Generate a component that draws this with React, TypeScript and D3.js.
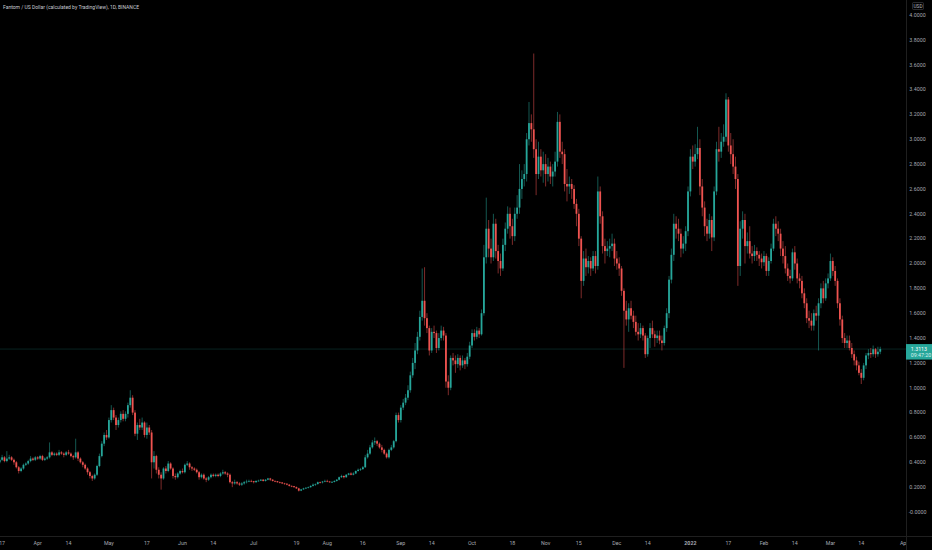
import * as d3 from 'd3';
import * as React from 'react';

const WIDTH = 932;
const HEIGHT = 550;
const PLOT_RIGHT = 906;
const PLOT_BOTTOM = 536;

const TITLE = 'Fantom / US Dollar (calculated by TradingView), 1D, BINANCE';
const CURRENCY = 'USD';
const COUNTDOWN = '09:47:20';
const FIRST_DAY = Date.UTC(2021, 2, 16);
const FIRST_OPEN = 0.4;
const UP = '#26a69a';
const DOWN = '#ef5350';

// daily candles as [high, low, close]; each open is the previous close
const mar21 = [
  [0.44, 0.39, 0.42], [0.46, 0.41, 0.44], [0.45, 0.4, 0.41], [0.49, 0.4, 0.43],
  [0.46, 0.42, 0.44], [0.45, 0.41, 0.42], [0.43, 0.38, 0.4], [0.41, 0.35, 0.36],
  [0.37, 0.31, 0.33], [0.36, 0.32, 0.35], [0.39, 0.34, 0.38], [0.4, 0.37, 0.39],
  [0.42, 0.38, 0.41], [0.45, 0.4, 0.43], [0.44, 0.41, 0.42], [0.45, 0.41, 0.44],
];
const apr21 = [
  [0.45, 0.42, 0.43], [0.46, 0.42, 0.45], [0.46, 0.41, 0.42], [0.44, 0.41, 0.43],
  [0.45, 0.42, 0.44], [0.56, 0.43, 0.48], [0.49, 0.45, 0.46], [0.48, 0.45, 0.47],
  [0.48, 0.45, 0.46], [0.5, 0.45, 0.48], [0.49, 0.46, 0.47], [0.48, 0.44, 0.46],
  [0.49, 0.45, 0.48], [0.5, 0.46, 0.47], [0.48, 0.44, 0.45], [0.46, 0.42, 0.44],
  [0.59, 0.43, 0.48], [0.49, 0.41, 0.43], [0.44, 0.39, 0.4], [0.41, 0.36, 0.38],
  [0.39, 0.34, 0.35], [0.36, 0.3, 0.32], [0.33, 0.27, 0.29], [0.3, 0.25, 0.27],
  [0.31, 0.26, 0.3], [0.38, 0.29, 0.37], [0.47, 0.36, 0.45], [0.57, 0.44, 0.55],
  [0.64, 0.53, 0.62], [0.66, 0.58, 0.6],
];
const may21 = [
  [0.76, 0.59, 0.74], [0.86, 0.72, 0.82], [0.84, 0.74, 0.76], [0.78, 0.66, 0.7],
  [0.76, 0.68, 0.74], [0.81, 0.72, 0.79], [0.82, 0.73, 0.75], [0.81, 0.73, 0.79],
  [0.88, 0.76, 0.86], [0.98, 0.84, 0.92], [0.94, 0.78, 0.8], [0.82, 0.61, 0.63],
  [0.72, 0.58, 0.7], [0.75, 0.66, 0.68], [0.76, 0.66, 0.72], [0.73, 0.6, 0.62],
  [0.72, 0.59, 0.68], [0.7, 0.62, 0.64], [0.66, 0.27, 0.4], [0.49, 0.35, 0.45],
  [0.46, 0.31, 0.34], [0.36, 0.27, 0.3], [0.32, 0.18, 0.27], [0.36, 0.26, 0.35],
  [0.37, 0.31, 0.33], [0.41, 0.32, 0.39], [0.4, 0.34, 0.35], [0.36, 0.27, 0.29],
  [0.31, 0.26, 0.28], [0.32, 0.27, 0.31], [0.34, 0.3, 0.33],
];
const jun21 = [
  [0.35, 0.31, 0.32], [0.39, 0.31, 0.38], [0.41, 0.37, 0.39], [0.4, 0.34, 0.36],
  [0.37, 0.33, 0.35], [0.36, 0.33, 0.34], [0.35, 0.31, 0.32], [0.33, 0.26, 0.28],
  [0.31, 0.27, 0.3], [0.31, 0.26, 0.27], [0.28, 0.24, 0.26], [0.29, 0.25, 0.28],
  [0.31, 0.27, 0.3], [0.31, 0.28, 0.29], [0.31, 0.28, 0.3], [0.31, 0.28, 0.29],
  [0.32, 0.28, 0.31], [0.34, 0.3, 0.32], [0.33, 0.3, 0.31], [0.32, 0.28, 0.3],
  [0.31, 0.23, 0.24], [0.25, 0.2, 0.23], [0.26, 0.22, 0.24], [0.25, 0.22, 0.23],
  [0.24, 0.21, 0.22], [0.24, 0.21, 0.23], [0.25, 0.22, 0.24], [0.26, 0.23, 0.245],
  [0.26, 0.24, 0.25], [0.26, 0.24, 0.248],
];
const jul21 = [
  [0.25, 0.23, 0.24], [0.255, 0.235, 0.25], [0.26, 0.245, 0.252], [0.265, 0.25, 0.26],
  [0.265, 0.245, 0.25], [0.265, 0.245, 0.26], [0.275, 0.255, 0.27], [0.275, 0.25, 0.26],
  [0.265, 0.245, 0.25], [0.255, 0.24, 0.248], [0.25, 0.235, 0.24], [0.245, 0.23, 0.238],
  [0.24, 0.225, 0.23], [0.235, 0.22, 0.228], [0.23, 0.215, 0.22], [0.225, 0.205, 0.21],
  [0.215, 0.2, 0.208], [0.21, 0.195, 0.2], [0.205, 0.185, 0.19], [0.195, 0.165, 0.172],
  [0.186, 0.168, 0.182], [0.195, 0.178, 0.19], [0.2, 0.185, 0.195], [0.205, 0.19, 0.2],
  [0.215, 0.195, 0.21], [0.23, 0.205, 0.22], [0.23, 0.21, 0.225], [0.245, 0.22, 0.24],
  [0.245, 0.23, 0.238], [0.25, 0.23, 0.245], [0.26, 0.24, 0.25],
];
const aug21 = [
  [0.26, 0.24, 0.245], [0.25, 0.235, 0.24], [0.25, 0.235, 0.242], [0.255, 0.238, 0.25],
  [0.265, 0.245, 0.26], [0.285, 0.255, 0.28], [0.3, 0.275, 0.29], [0.295, 0.27, 0.28],
  [0.305, 0.275, 0.3], [0.315, 0.295, 0.31], [0.32, 0.295, 0.3], [0.32, 0.295, 0.31],
  [0.335, 0.305, 0.33], [0.35, 0.325, 0.34], [0.355, 0.33, 0.345], [0.37, 0.34, 0.36],
  [0.46, 0.355, 0.44], [0.5, 0.43, 0.47], [0.54, 0.46, 0.52], [0.58, 0.51, 0.56],
  [0.6, 0.54, 0.57], [0.58, 0.53, 0.55], [0.56, 0.51, 0.52], [0.54, 0.48, 0.5],
  [0.51, 0.46, 0.47], [0.48, 0.43, 0.44], [0.51, 0.43, 0.5], [0.54, 0.49, 0.52],
  [0.58, 0.51, 0.57], [0.8, 0.56, 0.78], [0.8, 0.72, 0.74],
];
const sep21 = [
  [0.86, 0.72, 0.84], [0.91, 0.82, 0.88], [0.95, 0.86, 0.92], [1.02, 0.9, 0.98],
  [1.13, 0.96, 1.1], [1.24, 1.08, 1.2], [1.36, 1.15, 1.3], [1.45, 1.27, 1.41],
  [1.62, 1.38, 1.57], [1.96, 1.54, 1.7], [1.97, 1.5, 1.56], [1.6, 1.44, 1.48],
  [1.5, 1.26, 1.3], [1.48, 1.28, 1.45], [1.5, 1.4, 1.44], [1.46, 1.28, 1.32],
  [1.44, 1.3, 1.4], [1.5, 1.38, 1.46], [1.49, 1.38, 1.42], [1.44, 1.0, 1.05],
  [1.1, 0.94, 1.0], [1.26, 0.98, 1.24], [1.28, 1.18, 1.22], [1.26, 1.12, 1.19],
  [1.27, 1.16, 1.24], [1.26, 1.14, 1.18], [1.26, 1.16, 1.22], [1.24, 1.15, 1.19],
  [1.28, 1.17, 1.25], [1.37, 1.23, 1.34],
];
const oct21 = [
  [1.47, 1.32, 1.44], [1.47, 1.38, 1.41], [1.49, 1.39, 1.46], [1.48, 1.4, 1.43],
  [1.63, 1.42, 1.6], [2.15, 1.58, 2.05], [2.53, 2.0, 2.28], [2.35, 2.05, 2.12],
  [2.2, 2.0, 2.05], [2.4, 2.02, 2.32], [2.36, 2.04, 2.1], [2.15, 1.92, 2.02],
  [2.08, 1.9, 1.96], [2.2, 1.94, 2.15], [2.33, 2.1, 2.28], [2.46, 2.24, 2.4],
  [2.45, 2.2, 2.3], [2.36, 2.15, 2.22], [2.45, 2.18, 2.4], [2.55, 2.36, 2.45],
  [2.8, 2.4, 2.6], [2.75, 2.52, 2.68], [2.8, 2.62, 2.72], [3.05, 2.66, 3.0],
  [3.3, 2.95, 3.13], [3.2, 2.98, 3.08], [3.69, 2.85, 2.92], [3.0, 2.55, 2.72],
  [2.98, 2.68, 2.86], [2.92, 2.7, 2.75], [2.9, 2.65, 2.8],
];
const nov21 = [
  [2.88, 2.62, 2.72], [2.85, 2.66, 2.78], [2.82, 2.64, 2.7], [2.8, 2.62, 2.74],
  [2.9, 2.7, 2.82], [3.22, 2.78, 3.14], [3.2, 2.85, 2.9], [2.98, 2.8, 2.88],
  [2.92, 2.58, 2.64], [2.76, 2.5, 2.62], [2.7, 2.56, 2.64], [2.68, 2.52, 2.6],
  [2.63, 2.44, 2.48], [2.52, 2.3, 2.4], [2.44, 2.14, 2.2], [2.22, 1.72, 1.86],
  [2.1, 1.82, 2.04], [2.12, 1.9, 1.97], [2.06, 1.92, 2.02], [2.05, 1.9, 1.96],
  [2.1, 1.94, 2.06], [2.1, 1.92, 1.98], [2.7, 1.95, 2.58], [2.62, 2.32, 2.38],
  [2.42, 2.08, 2.14], [2.2, 2.0, 2.1], [2.18, 2.06, 2.12], [2.2, 2.05, 2.14],
  [2.24, 2.1, 2.16], [2.2, 1.98, 2.04],
];
const dec21 = [
  [2.1, 1.95, 2.0], [2.05, 1.9, 1.96], [1.98, 1.74, 1.78], [1.8, 1.16, 1.62],
  [1.7, 1.5, 1.55], [1.68, 1.45, 1.64], [1.7, 1.55, 1.58], [1.62, 1.48, 1.53],
  [1.58, 1.42, 1.45], [1.52, 1.38, 1.43], [1.52, 1.4, 1.48], [1.5, 1.38, 1.42],
  [1.44, 1.24, 1.27], [1.42, 1.25, 1.4], [1.52, 1.32, 1.48], [1.54, 1.4, 1.43],
  [1.46, 1.33, 1.4], [1.46, 1.36, 1.42], [1.46, 1.35, 1.38], [1.42, 1.3, 1.36],
  [1.5, 1.34, 1.48], [1.64, 1.45, 1.6], [1.9, 1.56, 1.87], [2.12, 1.84, 2.07],
  [2.4, 2.02, 2.32], [2.38, 2.2, 2.28], [2.36, 2.18, 2.24], [2.28, 2.05, 2.12],
  [2.22, 2.08, 2.16], [2.3, 2.1, 2.26], [2.62, 2.22, 2.58],
];
const jan22 = [
  [2.92, 2.54, 2.86], [2.95, 2.76, 2.82], [2.96, 2.78, 2.88], [3.1, 2.84, 2.93],
  [3.0, 2.55, 2.62], [2.68, 2.38, 2.45], [2.5, 2.22, 2.3], [2.36, 2.18, 2.24],
  [2.4, 2.2, 2.35], [2.38, 2.1, 2.21], [2.62, 2.18, 2.58], [2.98, 2.55, 2.92],
  [3.1, 2.82, 2.9], [3.05, 2.85, 2.98], [3.12, 2.94, 3.02], [3.37, 2.98, 3.32],
  [3.34, 2.9, 2.95], [3.05, 2.8, 2.88], [3.0, 2.72, 2.78], [2.86, 2.6, 2.68],
  [2.72, 1.82, 1.98], [2.34, 1.9, 2.28], [2.42, 2.2, 2.35], [2.4, 2.0, 2.14],
  [2.25, 2.08, 2.18], [2.3, 2.04, 2.08], [2.14, 2.0, 2.06], [2.15, 2.02, 2.1],
  [2.13, 2.02, 2.07], [2.1, 1.98, 2.04], [2.08, 1.96, 2.01],
];
const feb22 = [
  [2.1, 1.98, 2.06], [2.08, 1.9, 1.94], [2.05, 1.9, 2.02], [2.16, 2.0, 2.12],
  [2.36, 2.1, 2.32], [2.38, 2.22, 2.28], [2.34, 2.18, 2.24], [2.28, 2.06, 2.12],
  [2.18, 2.0, 2.06], [2.14, 1.92, 1.96], [2.0, 1.86, 1.9], [1.95, 1.84, 1.88],
  [2.12, 1.86, 2.09], [2.14, 1.95, 2.0], [2.04, 1.84, 1.88], [1.92, 1.8, 1.86],
  [1.9, 1.72, 1.76], [1.8, 1.64, 1.68], [1.72, 1.52, 1.56], [1.62, 1.48, 1.54],
  [1.6, 1.46, 1.5], [1.63, 1.46, 1.6], [1.66, 1.54, 1.58], [1.72, 1.3, 1.68],
  [1.84, 1.64, 1.8], [1.86, 1.68, 1.72], [1.88, 1.7, 1.84], [1.92, 1.8, 1.88],
];
const mar22 = [
  [2.08, 1.86, 2.02], [2.05, 1.9, 1.94], [1.98, 1.82, 1.86], [1.88, 1.64, 1.68],
  [1.72, 1.5, 1.55], [1.58, 1.36, 1.4], [1.44, 1.32, 1.36], [1.42, 1.32, 1.38],
  [1.42, 1.3, 1.32], [1.36, 1.24, 1.27], [1.3, 1.18, 1.22], [1.25, 1.14, 1.18],
  [1.21, 1.1, 1.12], [1.15, 1.03, 1.08], [1.2, 1.06, 1.18], [1.28, 1.15, 1.26],
  [1.31, 1.23, 1.28], [1.32, 1.24, 1.27], [1.34, 1.25, 1.31], [1.32, 1.24, 1.27],
  [1.33, 1.25, 1.29], [1.33, 1.27, 1.3113],
];
const months = [mar21, apr21, may21, jun21, jul21, aug21, sep21, oct21, nov21, dec21, jan22, feb22, mar22];

const priceTicks = [0, 0.2, 0.4, 0.6, 0.8, 1.0, 1.2, 1.4, 1.6, 1.8, 2.0, 2.2, 2.4, 2.6, 2.8, 3.0, 3.2, 3.4, 3.6, 3.8, 4.0];
const timeTicks = [
  '2021-03-17', '2021-04-01', '2021-04-14', '2021-05-01', '2021-05-17', '2021-06-01', '2021-06-14',
  '2021-07-01', '2021-07-19', '2021-08-01', '2021-08-16', '2021-09-01', '2021-09-14', '2021-10-01',
  '2021-10-18', '2021-11-01', '2021-11-15', '2021-12-01', '2021-12-14', '2022-01-01', '2022-01-17',
  '2022-02-01', '2022-02-14', '2022-03-01', '2022-03-14', '2022-04-01',
];
const timeLabels = [
  '17', 'Apr', '14', 'May', '17', 'Jun', '14', 'Jul', '19', 'Aug', '16', 'Sep', '14', 'Oct',
  '18', 'Nov', '15', 'Dec', '14', '2022', '17', 'Feb', '14', 'Mar', '14', 'Apr',
];

interface Candle {
  date: Date;
  open: number;
  high: number;
  low: number;
  close: number;
}

function buildCandles(): Candle[] {
  const out: Candle[] = [];
  let prev = FIRST_OPEN;
  months.flat().forEach(([high, low, close], i) => {
    out.push({ date: new Date(FIRST_DAY + i * 86400000), open: prev, high, low, close });
    prev = close;
  });
  return out;
}

const FONT = 'Roboto, "DejaVu Sans", sans-serif';
const AXIS_TEXT = '#a6a9b0';

export default function App() {
  const candles = React.useMemo(buildCandles, []);

  const x = d3
    .scaleUtc()
    .domain([new Date(Date.UTC(2021, 3, 1)), new Date(Date.UTC(2022, 3, 1))])
    .range([37.7, 904]);
  const y = d3.scaleLinear().domain([0, 4]).range([512, 15]);

  const bodyW = 1.8;
  const last = candles[candles.length - 1];
  const lastY = y(last.close);
  const fmt = d3.format('.4f');

  return (
    <div style={{ position: 'fixed', left: 0, top: 0, width: WIDTH, height: HEIGHT, background: '#000' }}>
      <svg width={WIDTH} height={HEIGHT} style={{ display: 'block' }}>
        <defs>
          <clipPath id="plot">
            <rect x={0} y={0} width={PLOT_RIGHT} height={PLOT_BOTTOM} />
          </clipPath>
          <clipPath id="timeaxis">
            <rect x={0} y={PLOT_BOTTOM} width={PLOT_RIGHT} height={HEIGHT - PLOT_BOTTOM} />
          </clipPath>
        </defs>
        <rect width={WIDTH} height={HEIGHT} fill="#000" />

        <g clipPath="url(#plot)">
          <line x1={0} x2={PLOT_RIGHT} y1={lastY} y2={lastY} stroke={UP} strokeOpacity={0.35} strokeWidth={0.6} />
          {candles.map((c, i) => {
            const col = c.close >= c.open ? UP : DOWN;
            const cx = x(c.date);
            const top = y(Math.max(c.open, c.close));
            const h = Math.max(0.7, Math.abs(y(c.open) - y(c.close)));
            return (
              <g key={i}>
                <line x1={cx} x2={cx} y1={y(c.high)} y2={y(c.low)} stroke={col} strokeOpacity={0.75} strokeWidth={0.7} />
                <rect x={cx - bodyW / 2} y={top} width={bodyW} height={h} fill={col} />
              </g>
            );
          })}
        </g>

        <line x1={PLOT_RIGHT + 0.5} x2={PLOT_RIGHT + 0.5} y1={0} y2={HEIGHT} stroke="#1f1f1f" strokeWidth={1} />
        <line x1={0} x2={WIDTH} y1={PLOT_BOTTOM + 0.5} y2={PLOT_BOTTOM + 0.5} stroke="#1f1f1f" strokeWidth={1} />

        <g clipPath="url(#timeaxis)">
          {timeTicks.map((t, i) => (
            <text
              key={t}
              x={x(new Date(t + 'T00:00:00Z'))}
              y={545}
              fill={AXIS_TEXT}
              fontSize={5.3}
              fontFamily={FONT}
              fontWeight={timeLabels[i] === '2022' ? 700 : 400}
              textAnchor="middle"
            >
              {timeLabels[i]}
            </text>
          ))}
        </g>

        {priceTicks.map(p => (
          <text
            key={p}
            x={917.5}
            y={y(p) + 1.8}
            fill={AXIS_TEXT}
            fontSize={5.3}
            fontFamily={FONT}
            textAnchor="middle"
          >
            {p === 0 ? '-0.0000' : fmt(p)}
          </text>
        ))}

        <rect x={912.5} y={2.5} width={11} height={7} rx={1} fill="none" stroke="#55575e" strokeWidth={0.5} />
        <text x={918} y={7.9} fill="#b2b5be" fontSize={4.8} fontFamily={FONT} textAnchor="middle">
          {CURRENCY}
        </text>

        <rect x={906} y={lastY - 5} width={26} height={15.5} fill={UP} />
        <text x={910.8} y={lastY + 1.6} fill="#fff" fontSize={5.3} fontFamily={FONT}>
          {fmt(last.close)}
        </text>
        <text x={910.8} y={lastY + 8.2} fill="#d8f2ef" fontSize={5.3} fontFamily={FONT}>
          {COUNTDOWN}
        </text>

        <text x={3} y={9.2} fill="#c8cbd2" fontSize={5} fontFamily={FONT}>
          {TITLE}
        </text>
      </svg>
    </div>
  );
}
